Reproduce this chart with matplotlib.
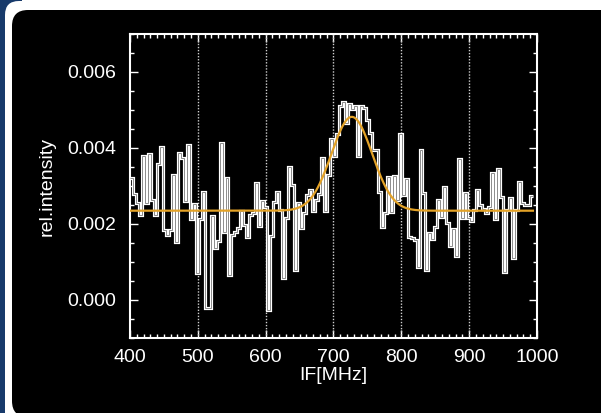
import matplotlib
matplotlib.use("Agg")
import numpy as np
import matplotlib.pyplot as plt
from matplotlib.patches import FancyBboxPatch, Rectangle
from matplotlib.ticker import MultipleLocator

plt.rcParams['font.family'] = ['Liberation Sans', 'DejaVu Sans']

# spectrum channels (rel. intensity, units of 1e-3), uniform channels from 400 MHz
freq_start = 400.0
chan_width = 4.4
intensity = np.array([
    # 400-500
    3.20, 2.80, 2.55, 2.24, 3.79, 2.56, 3.84, 2.63, 2.24, 3.58, 4.03, 1.84,
    1.71, 1.84, 3.29, 1.52, 3.86, 3.73, 2.61, 4.08, 2.12, 2.53, 0.70,
    # 500-600
    2.12, 2.85, -0.22, -0.22, 2.21, 1.36, 1.54, 4.14, 1.80, 3.22, 0.66, 1.71,
    1.80, 1.89, 2.34, 1.97, 1.67, 2.24, 2.28, 3.07, 1.95, 2.61, 2.45, -0.26,
    # 600-700
    1.68, 2.59, 2.85, 2.37, 0.57, 2.15, 3.51, 3.03, 0.79, 2.56, 1.89, 2.30,
    2.76, 2.89, 2.33, 2.63, 2.79, 3.73, 2.33, 3.29, 4.25, 3.79,
    # 700-800 (line)
    4.36, 5.11, 5.21, 4.67, 5.15, 5.03, 5.10, 3.79, 5.11, 5.05, 4.75, 4.39,
    3.95, 3.95, 2.85, 1.92, 2.30, 3.24, 2.31, 3.26, 2.63, 4.37,
    # 800-900
    2.76, 3.18, 1.65, 1.62, 1.58, 0.86, 3.96, 2.82, 0.79, 1.77, 1.60, 1.93,
    2.63, 2.19, 2.98, 2.02, 1.42, 1.88, 1.16, 3.70, 2.17, 2.81,
    # 900-995
    2.17, 2.09, 2.37, 2.89, 2.50, 2.39, 2.28, 2.44, 3.35, 2.12, 3.44, 2.72,
    0.74, 2.37, 2.68, 1.10, 2.37, 3.11, 2.54, 2.50, 2.50, 2.74,
]) * 1e-3

# gaussian fit parameters
fit_offset = 2.35e-3
fit_amp = 2.47e-3
fit_center = 727.0
fit_sigma = 30.0

x_ticks = [400, 500, 600, 700, 800, 900, 1000]
y_ticks = [0.000, 0.002, 0.004, 0.006]
grid_lines = [500, 600, 700, 800, 900]

W, H = 601, 413
fig = plt.figure(figsize=(W / 100, H / 100), dpi=100)
fig.patch.set_facecolor("white")

# background frame (pixel coordinates)
bg = fig.add_axes([0, 0, 1, 1])
bg.set_xlim(0, W)
bg.set_ylim(H, 0)
bg.axis("off")
bg.add_patch(Rectangle((0, 0), 22, H, color="#173a6b", lw=0))
bg.add_patch(FancyBboxPatch((5, 1), W + 20, H + 20,
                            boxstyle="round,pad=0,rounding_size=14",
                            fc="white", ec="none"))
bg.add_patch(FancyBboxPatch((12, 10), W + 10, H - 6,
                            boxstyle="round,pad=0,rounding_size=16",
                            fc="black", ec="none"))

ax = fig.add_axes([130 / W, 1 - 338 / H, (537 - 130) / W, (338 - 34) / H])
ax.set_facecolor("black")

edges = freq_start + chan_width * np.arange(len(intensity) + 1)
ax.stairs(intensity, edges, color="white", lw=2.3, baseline=None, zorder=3)
ax.stairs(intensity, edges, color="#8c8c8c", lw=0.7, baseline=None, zorder=4)

xf = np.linspace(edges[0], edges[-1], 600)
ax.plot(xf, fit_offset + fit_amp * np.exp(-0.5 * ((xf - fit_center) / fit_sigma) ** 2),
        color="#e3a227", lw=1.6, zorder=5)

for g in grid_lines:
    ax.axvline(g, color="#cfcfcf", lw=1.0, ls=(0, (1, 1.2)), zorder=2)

ax.set_xlim(400, 1000)
ax.set_ylim(-0.001, 0.007)
ax.set_xticks(x_ticks)
ax.set_yticks(y_ticks)
ax.set_yticklabels([f"{v:.3f}" for v in y_ticks])
ax.xaxis.set_minor_locator(MultipleLocator(10))
ax.yaxis.set_minor_locator(MultipleLocator(0.0005))
ax.tick_params(which="both", direction="in", top=True, right=True,
               colors="white", labelsize=14)
ax.tick_params(which="major", length=6, width=1.0)
ax.tick_params(which="minor", length=3, width=1.0)
ax.tick_params(axis="x", pad=8)
ax.tick_params(axis="y", pad=10)
for s in ax.spines.values():
    s.set_color("white")
    s.set_linewidth(1.5)

ax.set_xlabel("IF[MHz]", color="white", fontsize=14, labelpad=1)
ax.set_ylabel("rel.intensity", color="white", fontsize=14, labelpad=8)

fig.savefig("out.png", dpi=100, facecolor=fig.get_facecolor())
